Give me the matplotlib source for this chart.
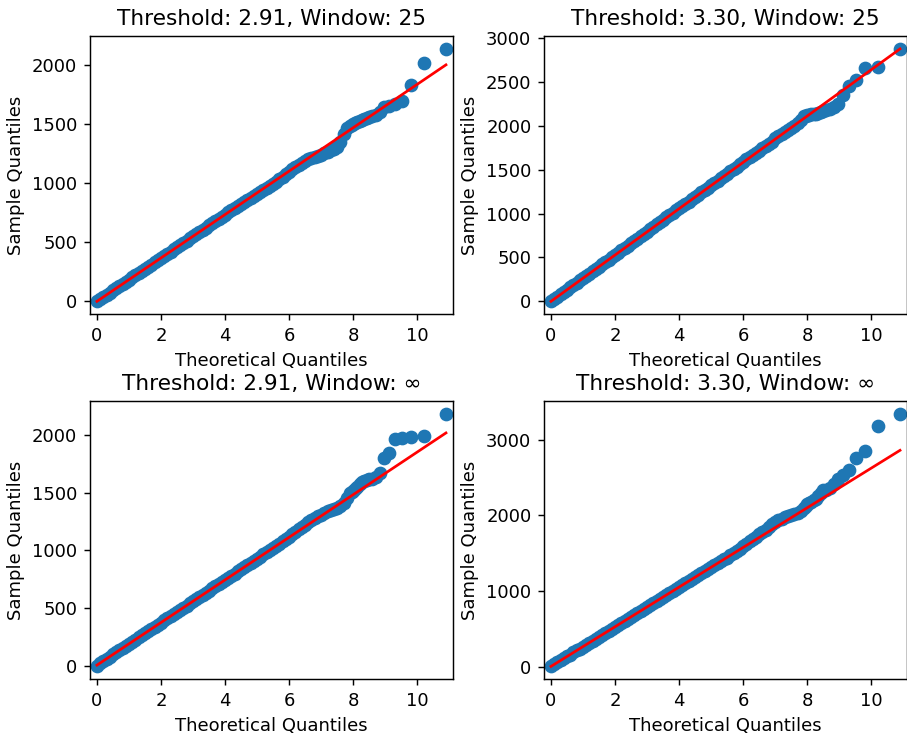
import matplotlib
matplotlib.use("Agg")
import matplotlib.pyplot as plt

# theoretical quantiles (shared by all four panels)
theo_q = [0.0, 0.1, 0.2, 0.3, 0.4, 0.5, 0.6, 0.7, 0.8, 0.9,
          1.0, 1.1, 1.2, 1.3, 1.4, 1.5, 1.6, 1.7, 1.8, 1.9,
          2.0, 2.1, 2.2, 2.3, 2.4, 2.5, 2.6, 2.7, 2.8, 2.9,
          3.0, 3.1, 3.2, 3.3, 3.4, 3.5, 3.6, 3.7, 3.8, 3.9,
          4.0, 4.1, 4.2, 4.3, 4.4, 4.5, 4.6, 4.7, 4.8, 4.9,
          5.0, 5.1, 5.2, 5.3, 5.4, 5.5, 5.6, 5.7, 5.8, 5.9,
          6.0, 6.1, 6.2, 6.3, 6.4, 6.5, 6.6, 6.7, 6.8, 6.9,
          7.0, 7.1, 7.2, 7.3, 7.4, 7.5, 7.6, 7.7, 7.8,
          7.9, 7.96, 8.01, 8.07, 8.13, 8.2, 8.27, 8.34, 8.42, 8.5,
          8.6, 8.71, 8.83, 8.96, 9.12, 9.3, 9.52, 9.8, 10.21, 10.9]

# sample quantiles
q_291_25 = [0, 18, 37, 55, 74, 92, 110, 128, 147, 165,
            183, 202, 220, 238, 256, 275, 293, 311, 330, 348,
            366, 385, 403, 421, 440, 458, 476, 495, 513, 531,
            549, 568, 586, 604, 623, 641, 659, 677, 696, 714,
            733, 751, 769, 787, 804, 820, 838, 856, 873, 890,
            908, 925, 942, 960, 978, 995, 1012, 1030, 1050, 1072,
            1095, 1115, 1133, 1152, 1170, 1187, 1200, 1212, 1222, 1232,
            1240, 1250, 1262, 1275, 1288, 1305, 1345, 1410, 1462,
            1482, 1492, 1500, 1508, 1515, 1522, 1530, 1538, 1546, 1555,
            1562, 1572, 1600, 1640, 1647, 1668, 1690, 1830, 2010, 2135]

q_330_25 = [0, 26, 53, 79, 106, 132, 159, 185, 211, 238,
            264, 291, 317, 343, 370, 396, 423, 449, 476, 502,
            528, 555, 581, 608, 634, 661, 687, 713, 740, 766,
            795, 822, 850, 878, 905, 932, 958, 984, 1010, 1036,
            1060, 1085, 1110, 1136, 1162, 1189, 1215, 1242, 1268, 1295,
            1321, 1347, 1374, 1400, 1427, 1453, 1480, 1506, 1532, 1559,
            1590, 1620, 1645, 1668, 1690, 1712, 1742, 1768, 1792, 1818,
            1855, 1880, 1905, 1925, 1950, 1975, 2000, 2030, 2070,
            2110, 2115, 2120, 2125, 2130, 2133, 2136, 2145, 2160, 2170,
            2180, 2195, 2215, 2250, 2345, 2455, 2525, 2660, 2672, 2878]

q_291_inf = [0, 29, 48, 66, 84, 103, 121, 140, 158, 176,
             195, 213, 231, 250, 268, 286, 305, 323, 341, 360,
             378, 397, 415, 433, 452, 470, 488, 507, 525, 543,
             562, 580, 598, 617, 635, 654, 672, 690, 709, 727,
             745, 764, 782, 800, 819, 837, 856, 874, 892, 911,
             929, 947, 966, 984, 1002, 1021, 1039, 1058, 1080, 1100,
             1118, 1138, 1158, 1185, 1205, 1222, 1245, 1262, 1278, 1295,
             1310, 1325, 1338, 1350, 1360, 1370, 1380, 1410, 1450,
             1495, 1508, 1515, 1530, 1550, 1570, 1590, 1600, 1610, 1613,
             1618, 1630, 1665, 1798, 1845, 1960, 1970, 1978, 1990, 2180]

q_330_inf = [5, 31, 57, 84, 110, 136, 162, 189, 215, 241,
             267, 294, 320, 346, 372, 399, 425, 451, 477, 504,
             530, 556, 582, 609, 635, 661, 687, 714, 740, 766,
             792, 819, 845, 871, 897, 924, 950, 976, 1002, 1029,
             1055, 1081, 1107, 1134, 1160, 1186, 1212, 1239, 1265, 1291,
             1317, 1343, 1368, 1393, 1418, 1443, 1470, 1500, 1530, 1560,
             1595, 1625, 1655, 1690, 1720, 1750, 1780, 1810, 1845, 1880,
             1912, 1935, 1955, 1972, 1988, 2002, 2016, 2032, 2062,
             2100, 2130, 2150, 2165, 2180, 2200, 2215, 2250, 2290, 2330,
             2340, 2360, 2420, 2480, 2530, 2595, 2758, 2846, 3185, 3343]

# fitted reference lines (end points)
line_x = [0, 10.9]
line_291_25 = [0, 1998]
line_330_25 = [0, 2875]
line_291_inf = [11, 2014]
line_330_inf = [5, 2859]

titles = ["Threshold: 2.91, Window: 25", "Threshold: 3.30, Window: 25",
          "Threshold: 2.91, Window: \u221e", "Threshold: 3.30, Window: \u221e"]
samples = [q_291_25, q_330_25, q_291_inf, q_330_inf]
lines = [line_291_25, line_330_25, line_291_inf, line_330_inf]

fig = plt.figure(figsize=(907 / 130, 736 / 130), dpi=130)
boxes = [[0.0992, 0.5734, 0.4002, 0.3777],
         [0.5998, 0.5734, 0.4002, 0.3777],
         [0.0992, 0.0774, 0.4002, 0.3777],
         [0.5998, 0.0774, 0.4002, 0.3777]]

for box, title, sq, ln in zip(boxes, titles, samples, lines):
    ax = fig.add_axes(box)
    ax.plot(theo_q, sq, 'o', color='C0', markersize=6.6)
    ax.plot(line_x, ln, 'r-', lw=1.5)
    ax.set_xmargin(0.02)
    ax.set_xlabel('Theoretical Quantiles')
    ax.set_ylabel('Sample Quantiles')
    ax.set_title(title)

fig.savefig('out.png', dpi=130)
